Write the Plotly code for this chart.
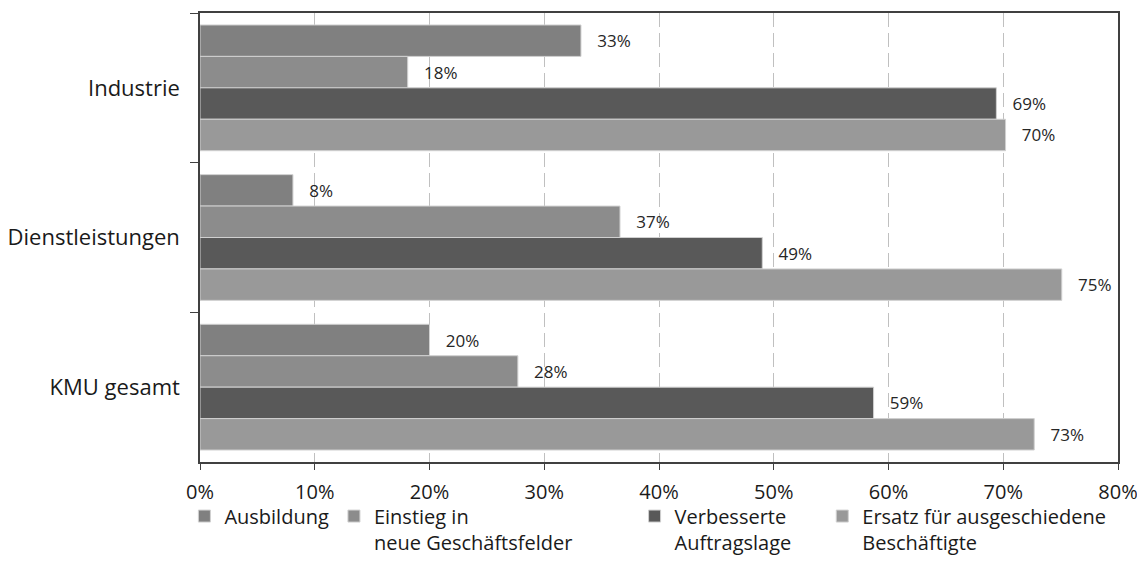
import plotly.graph_objects as go

categories = ['Industrie', 'Dienstleistungen', 'KMU gesamt']
NB = '\u00a0'
series_names = ['Ausbildung',
                'Einstieg in<br>neue Geschäftsfelder' + NB * 11,
                'Verbesserte' + NB * 5 + '<br>Auftragslage' + NB * 5,
                'Ersatz für ausgeschiedene<br>Beschäftigte']
ausbildung = [33.2, 8.1, 20.0]
einstieg = [18.1, 36.6, 27.7]
auftragslage = [69.4, 49.0, 58.7]
ersatz = [70.2, 75.1, 72.7]
x_ticks = [0, 10, 20, 30, 40, 50, 60, 70, 80]
x_ticklabels = ['0%', '10%', '20%', '30%', '40%', '50%', '60%', '70%', '80%']

colors = ['#808080', '#8c8c8c', '#595959', '#999999']
FONT = 'Open Sans, Liberation Sans, sans-serif'

fig = go.Figure()
for name, vals, col in zip(series_names, [ausbildung, einstieg, auftragslage, ersatz], colors):
    fig.add_trace(go.Bar(
        name=name, y=categories, x=vals, orientation='h',
        marker=dict(color=col, line=dict(color='#d0d0d0', width=1)),
        text=[NB * 3 + '%d%%' % round(v) for v in vals],
        textposition='outside', cliponaxis=False,
        textfont=dict(size=17, color='#262626', family=FONT),
    ))

# page body has an 8px margin, so the figure is a bit smaller than the window
fig.update_layout(
    width=1137, height=571,
    margin=dict(l=192, r=27, t=5, b=117, autoexpand=False),
    paper_bgcolor='white', plot_bgcolor='white',
    barmode='group', bargap=0.16, bargroupgap=0,
    font=dict(family=FONT, color='#1a1a1a'),
    showlegend=True,
    legend=dict(orientation='h', x=-0.017, y=-0.077, xanchor='left', yanchor='top',
                traceorder='normal', font=dict(size=20, family=FONT, color='#1a1a1a'),
                bgcolor='rgba(0,0,0,0)',
                itemwidth=30, tracegroupgap=0, valign='top'),
)
fig.update_xaxes(
    range=[0, 80], tickvals=x_ticks, ticktext=x_ticklabels, automargin=False,
    showgrid=True, gridcolor='#c0c0c0', gridwidth=1, griddash='14px,6px',
    showline=True, linecolor='#404040', linewidth=1.5, mirror=True,
    ticks='outside', ticklen=6, tickcolor='#404040', ticklabelstandoff=5,
    tickfont=dict(size=20, family=FONT, color='#1a1a1a'), zeroline=False,
)
fig.update_yaxes(
    autorange='reversed', tickson='boundaries', automargin=False,
    showline=True, linecolor='#404040', linewidth=1.5, mirror=True,
    ticks='outside', ticklen=8, tickcolor='#404040',
    tickfont=dict(size=22, family=FONT, color='#1a1a1a'), ticklabelstandoff=14,
    showgrid=False,
)

fig.write_html('out.html')
